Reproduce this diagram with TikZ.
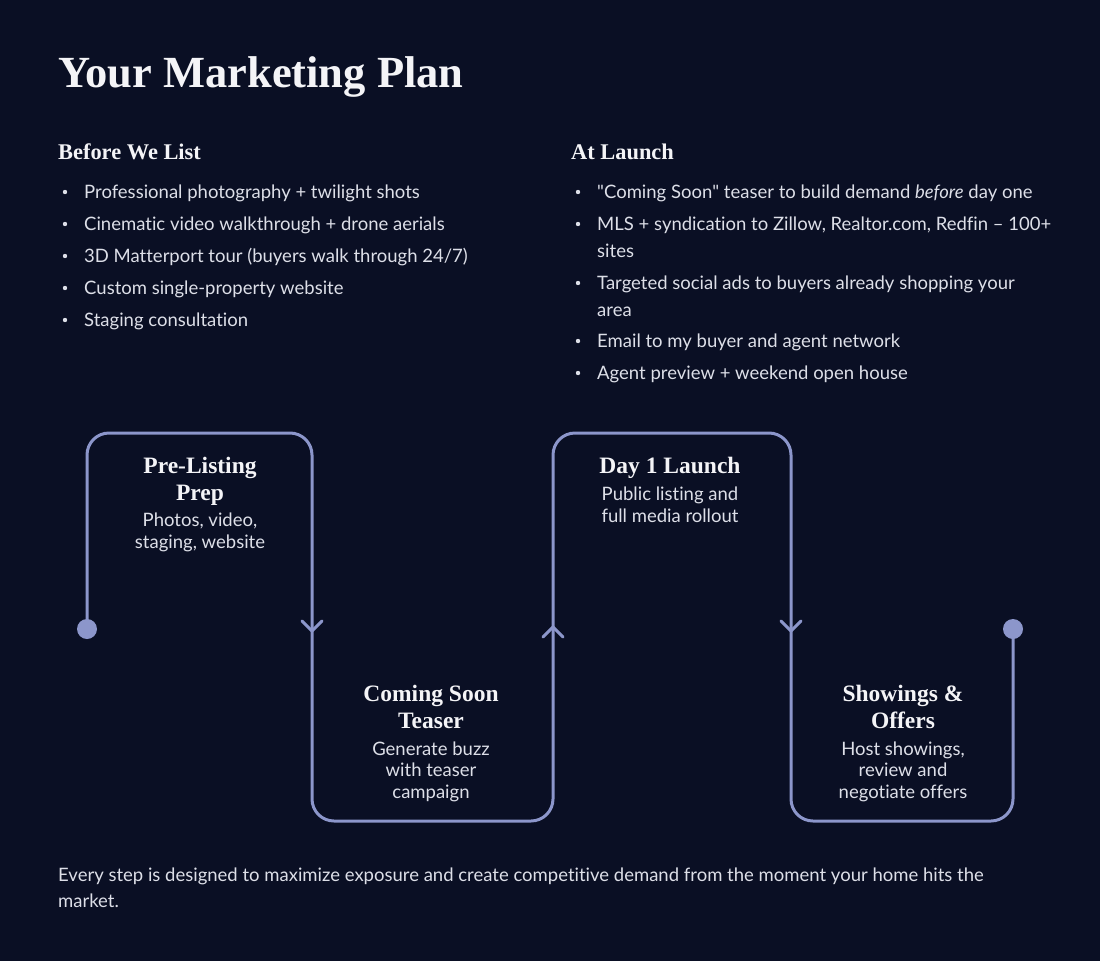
\documentclass[tikz,border=0pt]{standalone}
\usepackage{fontspec}
\setmainfont{Lato}[Ligatures={NoCommon}]
\newfontfamily\headfont{Liberation Serif}
\definecolor{bg}{HTML}{0A0F24}
\definecolor{flowc}{HTML}{8C96CB}
\definecolor{headc}{HTML}{F4F4F7}
\definecolor{bodyc}{HTML}{DDDFE8}
\tikzset{
  title/.style={anchor=base west, inner sep=0, text=headc, font=\headfont\bfseries\fontsize{44.5}{50}\selectfont},
  sechead/.style={anchor=base west, inner sep=0, text=headc, font=\headfont\bfseries\fontsize{22.4}{26}\selectfont},
  item/.style={anchor=base west, inner sep=0, text=bodyc, align=left, font=\fontsize{18.5}{27}\selectfont},
  bul/.style={fill=bodyc, draw=none},
  stephead/.style={anchor=base, inner sep=0, text=headc, align=center, font=\headfont\bfseries\fontsize{23.5}{27}\selectfont},
  stepbody/.style={anchor=base, inner sep=0, text=bodyc, align=center, font=\fontsize{18.5}{21.5}\selectfont},
  flow/.style={draw=flowc, line width=3pt, rounded corners=22pt},
  chev/.style={draw=flowc, line width=3pt, line cap=round, line join=round},
  dotc/.style={fill=flowc, draw=none},
}
\begin{document}
\begin{tikzpicture}[x=1pt,y=-1pt]
\fill[bg] (0,0) rectangle (1100,961);
\useasboundingbox (0,0) rectangle (1100,961);

\node[title] (t) at (58,87) {Your Marketing Plan};

\node[sechead] (h1) at (58,159) {Before We List};
\node[sechead] (h2) at (571,159) {At Launch};

% left bullets (anchor = baseline of last line)
\foreach \y/\txt [count=\i] in {198/{Professional photography + twilight shots},
  230/{Cinematic video walkthrough + drone aerials},
  262/{3D Matterport tour (buyers walk through 24/7)},
  294/{Custom single-property website},
  326/{Staging consultation}} {
  \fill[bul] (65,\y-6) circle (2.2);
  \node[item] (l\i) at (84,\y) {\txt};
}
% right bullets
\fill[bul] (578,192) circle (2.2);
\node[item] (r1) at (597,198) {\textquotedbl Coming Soon\textquotedbl{} teaser to build demand \textit{before} day one};
\fill[bul] (578,224) circle (2.2);
\node[item] (r2) at (597,257) {MLS + syndication to Zillow, Realtor.com, Redfin – 100+\\sites};
\fill[bul] (578,283) circle (2.2);
\node[item] (r3) at (597,316) {Targeted social ads to buyers already shopping your\\area};
\fill[bul] (578,341) circle (2.2);
\node[item] (r4) at (597,347) {Email to my buyer and agent network};
\fill[bul] (578,373) circle (2.2);
\node[item] (r5) at (597,379) {Agent preview + weekend open house};

% flow path
\coordinate (s) at (87,629);
\coordinate (c1) at (87,433);
\coordinate (c2) at (312,433);
\coordinate (c3) at (312,821);
\coordinate (c4) at (553,821);
\coordinate (c5) at (553,433);
\coordinate (c6) at (791,433);
\coordinate (c7) at (791,821);
\coordinate (c8) at (1013,821);
\coordinate (e) at (1013,629);
\draw[flow] (s) -- (c1) -- (c2) -- (c3) -- (c4) -- (c5) -- (c6) -- (c7) -- (c8) -- (e);
\fill[dotc] (s) circle (10);
\fill[dotc] (e) circle (10);
% chevrons
\draw[chev] (302,621) -- (312,631) -- (322,621);
\draw[chev] (543,637) -- (553,627) -- (563,637);
\draw[chev] (781,621) -- (791,631) -- (801,621);

% step texts (anchor = baseline of last line)
\node[stephead] (s1h) at (200,500) {Pre-Listing\\Prep};
\node[stepbody] (s1b) at (200,548) {Photos, video,\\staging, website};
\node[stephead] (s2h) at (431,728) {Coming Soon\\Teaser};
\node[stepbody] (s2b) at (431,798) {Generate buzz\\with teaser\\campaign};
\node[stephead] (s3h) at (670,473) {Day 1 Launch};
\node[stepbody] (s3b) at (670,522) {Public listing and\\full media rollout};
\node[stephead] (s4h) at (903,728) {Showings \&\\Offers};
\node[stepbody] (s4b) at (903,798) {Host showings,\\review and\\negotiate offers};

% footer
\node[item, font=\fontsize{18.5}{26}\selectfont] (f) at (58,907) {Every step is designed to maximize exposure and create competitive demand from the moment your home hits the\\market.};
\end{tikzpicture}
\end{document}
